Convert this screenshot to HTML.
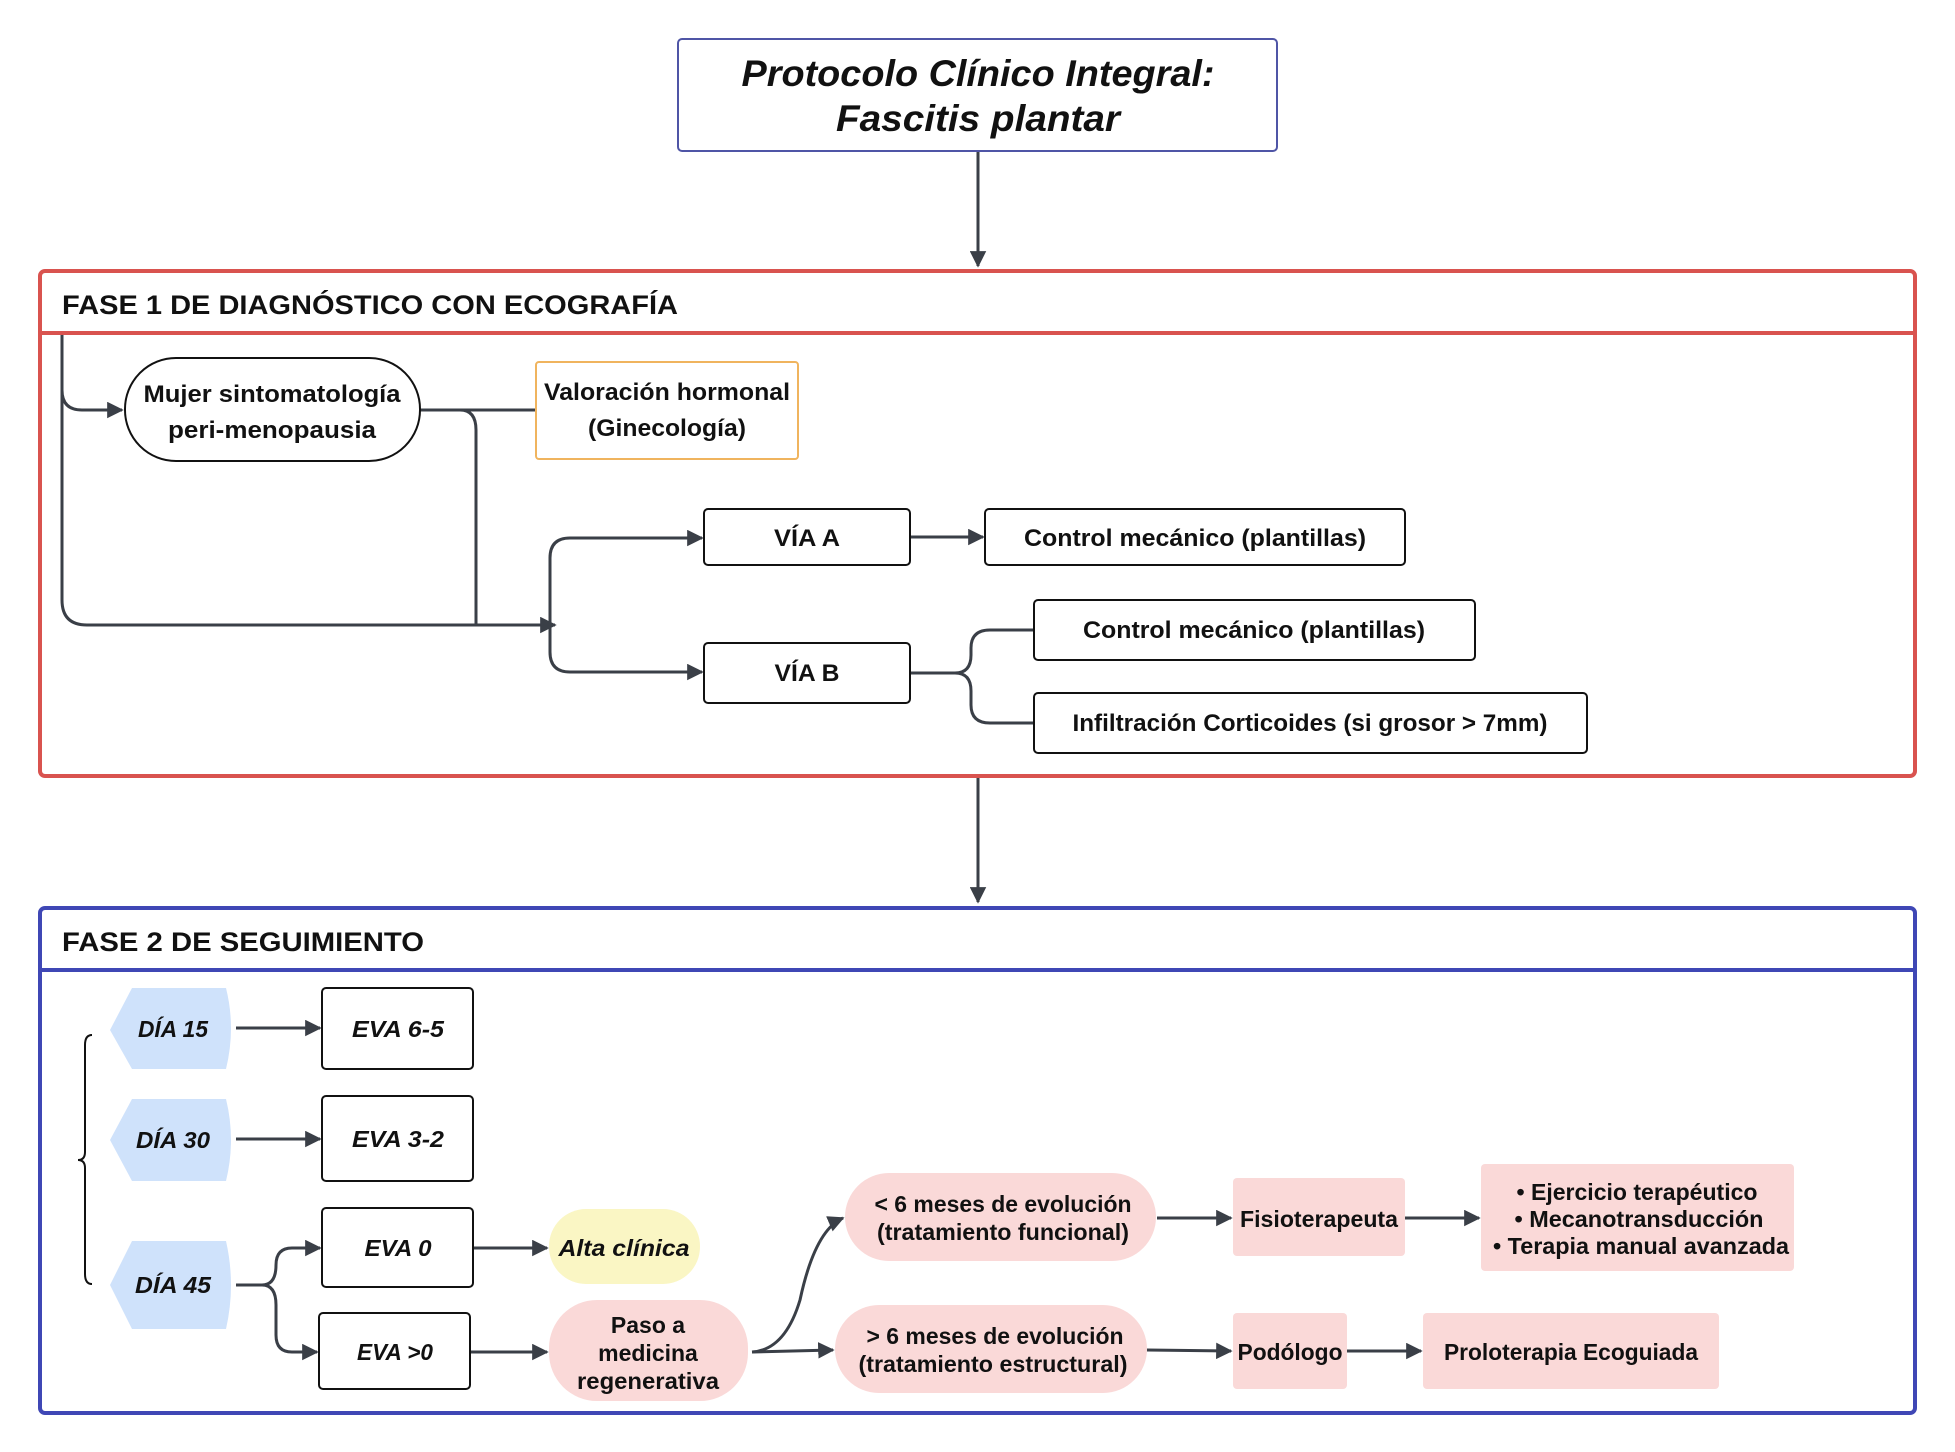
<!DOCTYPE html>
<html><head><meta charset="utf-8"><style>
html,body{margin:0;padding:0;background:#fff}
svg{display:block}
text{font-family:"Liberation Sans",sans-serif;font-weight:bold;fill:#111}
</style></head><body>
<svg width="1955" height="1452" viewBox="0 0 1955 1452" xmlns="http://www.w3.org/2000/svg">
<defs>
<marker id="ar" viewBox="0 0 10 10" refX="9" refY="5" markerWidth="5.5" markerHeight="5.5" orient="auto-start-reverse" markerUnits="strokeWidth">
<path d="M0,0 L10,5 L0,10 z" fill="#3a3f47"/></marker>
</defs>
<g fill="none" stroke="#3a3f47" stroke-width="3">
<line x1="978" y1="152" x2="978" y2="266" marker-end="url(#ar)"/>
<line x1="978" y1="777" x2="978" y2="902" marker-end="url(#ar)"/>
</g>
<rect x="678" y="39" width="599" height="112" rx="4" fill="#fff" stroke="#4f55a6" stroke-width="2"/>
<text x="978" y="86" font-size="37" font-style="italic" text-anchor="middle" textLength="473" lengthAdjust="spacingAndGlyphs">Protocolo Clínico Integral:</text>
<text x="978" y="131" font-size="37" font-style="italic" text-anchor="middle" textLength="284" lengthAdjust="spacingAndGlyphs">Fascitis plantar</text>

<!-- FASE 1 -->
<rect x="40" y="271" width="1875" height="505" rx="5" fill="none" stroke="#d9534f" stroke-width="4"/>
<line x1="40" y1="333" x2="1915" y2="333" stroke="#d9534f" stroke-width="4"/>
<text x="62" y="314" font-size="27" textLength="616" lengthAdjust="spacingAndGlyphs">FASE 1  DE  DIAGNÓSTICO CON ECOGRAFÍA</text>

<g fill="none" stroke="#3a3f47" stroke-width="3">
<path d="M62 335 V390 Q62 410 82 410 H122" marker-end="url(#ar)"/>
<path d="M62 390 V600 Q62 625 87 625 H555" marker-end="url(#ar)"/>
<path d="M420 410 H536"/>
<path d="M420 410 H460 Q476 410 476 430 V625"/>
<path d="M550 652 V558 Q550 538 570 538 H702" marker-end="url(#ar)"/>
<path d="M550 600 V652 Q550 672 570 672 H702" marker-end="url(#ar)"/>
<path d="M910 537 H983" marker-end="url(#ar)"/>
<path d="M910 673 H955 Q971 673 971 655 V648 Q971 630 990 630 H1034"/>
<path d="M955 673 Q971 673 971 691 V705 Q971 723 990 723 H1034"/>
</g>
<rect x="125" y="358" width="295" height="103" rx="51" fill="#fff" stroke="#111" stroke-width="2"/>
<text x="272" y="402" font-size="24" text-anchor="middle" textLength="257" lengthAdjust="spacingAndGlyphs">Mujer sintomatología</text>
<text x="272" y="438" font-size="24" text-anchor="middle" textLength="208" lengthAdjust="spacingAndGlyphs">peri-menopausia</text>
<rect x="536" y="362" width="262" height="97" rx="3" fill="#fff" stroke="#f0b45e" stroke-width="2"/>
<text x="667" y="400" font-size="24" text-anchor="middle" textLength="246" lengthAdjust="spacingAndGlyphs">Valoración hormonal</text>
<text x="667" y="436" font-size="24" text-anchor="middle" textLength="158" lengthAdjust="spacingAndGlyphs">(Ginecología)</text>

<rect x="704" y="509" width="206" height="56" rx="4" fill="#fff" stroke="#111" stroke-width="2"/>
<text x="807" y="546" font-size="24" text-anchor="middle" textLength="66" lengthAdjust="spacingAndGlyphs">VÍA A</text>
<rect x="704" y="643" width="206" height="60" rx="4" fill="#fff" stroke="#111" stroke-width="2"/>
<text x="807" y="681" font-size="24" text-anchor="middle" textLength="65" lengthAdjust="spacingAndGlyphs">VÍA B</text>
<rect x="985" y="509" width="420" height="56" rx="4" fill="#fff" stroke="#111" stroke-width="2"/>
<text x="1195" y="546" font-size="24" text-anchor="middle" textLength="342" lengthAdjust="spacingAndGlyphs">Control mecánico (plantillas)</text>
<rect x="1034" y="600" width="441" height="60" rx="4" fill="#fff" stroke="#111" stroke-width="2"/>
<text x="1254" y="638" font-size="24" text-anchor="middle" textLength="342" lengthAdjust="spacingAndGlyphs">Control mecánico (plantillas)</text>
<rect x="1034" y="693" width="553" height="60" rx="4" fill="#fff" stroke="#111" stroke-width="2"/>
<text x="1310" y="731" font-size="24" text-anchor="middle" textLength="475" lengthAdjust="spacingAndGlyphs">Infiltración Corticoides (si grosor &gt; 7mm)</text>

<!-- FASE 2 -->
<rect x="40" y="908" width="1875" height="505" rx="5" fill="none" stroke="#3f47b5" stroke-width="4"/>
<line x1="40" y1="970" x2="1915" y2="970" stroke="#3f47b5" stroke-width="4"/>
<text x="62" y="951" font-size="27" textLength="362" lengthAdjust="spacingAndGlyphs">FASE 2  DE SEGUIMIENTO</text>

<path d="M92 1035 Q85 1035 85 1045 V1152 Q85 1160 78 1160 Q85 1160 85 1168 V1274 Q85 1284 92 1284" fill="none" stroke="#111" stroke-width="2"/>

<g fill="#cfe2fb">
<path d="M132 988 H226 Q236 1028 226 1069 H132 L110 1030 Z"/>
<path d="M132 1099 H226 Q236 1140 226 1181 H132 L110 1140 Z"/>
<path d="M132 1241 H226 Q236 1285 226 1329 H132 L110 1285 Z"/>
</g>
<text x="173" y="1037" font-size="23" font-style="italic" text-anchor="middle" textLength="70" lengthAdjust="spacingAndGlyphs">DÍA 15</text>
<text x="173" y="1148" font-size="23" font-style="italic" text-anchor="middle" textLength="74" lengthAdjust="spacingAndGlyphs">DÍA 30</text>
<text x="173" y="1293" font-size="23" font-style="italic" text-anchor="middle" textLength="76" lengthAdjust="spacingAndGlyphs">DÍA 45</text>

<g fill="none" stroke="#3a3f47" stroke-width="3">
<path d="M236 1028 H320" marker-end="url(#ar)"/>
<path d="M236 1139 H320" marker-end="url(#ar)"/>
<path d="M236 1285 H262 Q276 1285 276 1265 V1265 Q276 1248 292 1248 H320" marker-end="url(#ar)"/>
<path d="M262 1285 Q276 1285 276 1305 V1335 Q276 1352 292 1352 H317" marker-end="url(#ar)"/>
<path d="M473 1248 H547" marker-end="url(#ar)"/>
<path d="M470 1352 H547" marker-end="url(#ar)"/>
<path d="M752 1352 Q785 1350 800 1300 Q815 1230 843 1218" marker-end="url(#ar)"/>
<path d="M752 1352 L833 1350" marker-end="url(#ar)"/>
<path d="M1157 1218 H1231" marker-end="url(#ar)"/>
<path d="M1405 1218 H1479" marker-end="url(#ar)"/>
<path d="M1147 1350 L1231 1351" marker-end="url(#ar)"/>
<path d="M1347 1351 H1421" marker-end="url(#ar)"/>
</g>

<g fill="#fff" stroke="#111" stroke-width="2">
<rect x="322" y="988" width="151" height="81" rx="4"/>
<rect x="322" y="1096" width="151" height="85" rx="4"/>
<rect x="322" y="1208" width="151" height="79" rx="4"/>
<rect x="319" y="1313" width="151" height="76" rx="4"/>
</g>
<g font-size="23" font-style="italic" text-anchor="middle">
<text x="398" y="1037" textLength="92" lengthAdjust="spacingAndGlyphs">EVA 6-5</text>
<text x="398" y="1147" textLength="92" lengthAdjust="spacingAndGlyphs">EVA 3-2</text>
<text x="398" y="1256" textLength="67" lengthAdjust="spacingAndGlyphs">EVA 0</text>
<text x="395" y="1360" textLength="76" lengthAdjust="spacingAndGlyphs">EVA &gt;0</text>
</g>

<rect x="549" y="1209" width="151" height="75" rx="37" fill="#faf6c4"/>
<text x="624" y="1256" font-size="23" font-style="italic" text-anchor="middle" textLength="131" lengthAdjust="spacingAndGlyphs">Alta  clínica</text>
<rect x="549" y="1300" width="199" height="101" rx="48" fill="#fad9d8"/>
<text x="648" y="1333" font-size="23" text-anchor="middle">Paso a</text>
<text x="648" y="1361" font-size="23" text-anchor="middle">medicina</text>
<text x="648" y="1389" font-size="23" text-anchor="middle" textLength="142" lengthAdjust="spacingAndGlyphs">regenerativa</text>

<rect x="845" y="1173" width="311" height="88" rx="44" fill="#fad9d8"/>
<text x="1003" y="1212" font-size="23" text-anchor="middle" textLength="257" lengthAdjust="spacingAndGlyphs">&lt; 6 meses de evolución</text>
<text x="1003" y="1240" font-size="23" text-anchor="middle" textLength="252" lengthAdjust="spacingAndGlyphs">(tratamiento funcional)</text>
<rect x="835" y="1305" width="312" height="88" rx="44" fill="#fad9d8"/>
<text x="995" y="1344" font-size="23" text-anchor="middle" textLength="257" lengthAdjust="spacingAndGlyphs">&gt; 6 meses de evolución</text>
<text x="993" y="1372" font-size="23" text-anchor="middle" textLength="269" lengthAdjust="spacingAndGlyphs">(tratamiento estructural)</text>

<rect x="1233" y="1178" width="172" height="78" rx="4" fill="#fad9d8"/>
<text x="1319" y="1227" font-size="23" text-anchor="middle" textLength="158" lengthAdjust="spacingAndGlyphs">Fisioterapeuta</text>
<rect x="1481" y="1164" width="313" height="107" rx="4" fill="#fad9d8"/>
<text x="1637" y="1200" font-size="23" text-anchor="middle" textLength="241" lengthAdjust="spacingAndGlyphs">• Ejercicio terapéutico</text>
<text x="1639" y="1227" font-size="23" text-anchor="middle" textLength="249" lengthAdjust="spacingAndGlyphs">• Mecanotransducción</text>
<text x="1641" y="1254" font-size="23" text-anchor="middle" textLength="296" lengthAdjust="spacingAndGlyphs">• Terapia manual avanzada</text>
<rect x="1233" y="1313" width="114" height="76" rx="4" fill="#fad9d8"/>
<text x="1290" y="1360" font-size="23" text-anchor="middle" textLength="105" lengthAdjust="spacingAndGlyphs">Podólogo</text>
<rect x="1423" y="1313" width="296" height="76" rx="4" fill="#fad9d8"/>
<text x="1571" y="1360" font-size="23" text-anchor="middle" textLength="254" lengthAdjust="spacingAndGlyphs">Proloterapia Ecoguiada</text>
</svg>
</body></html>
